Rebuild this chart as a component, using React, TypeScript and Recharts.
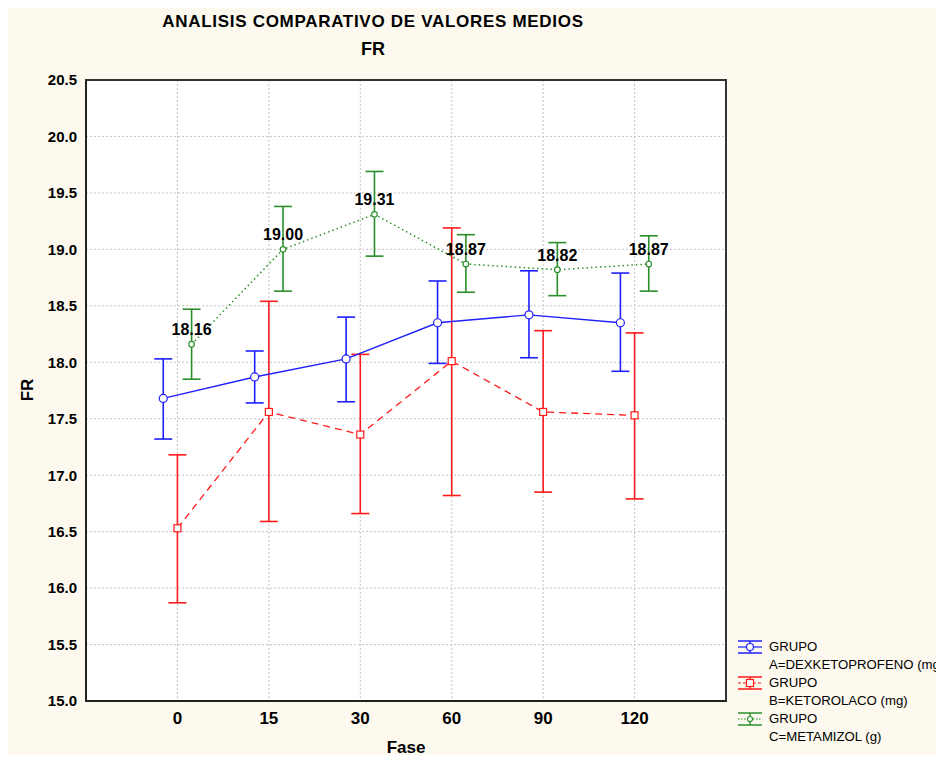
import React from 'react'
import { LineChart, Line, XAxis, YAxis, CartesianGrid, ErrorBar, LabelList, Legend, ReferenceArea } from 'recharts'

// fases (min)
const phases = ['0', '15', '30', '60', '90', '120']
const yTicks = [15, 15.5, 16, 16.5, 17, 17.5, 18, 18.5, 19, 19.5, 20, 20.5]
const groupNames = ['A=DEXKETOPROFENO (mg)', 'B=KETOROLACO (mg)', 'C=METAMIZOL (g)']

// grupo A
const dexMean = [17.68, 17.87, 18.03, 18.35, 18.42, 18.35]
const dexLow = [17.32, 17.64, 17.65, 17.99, 18.04, 17.92]
const dexHigh = [18.03, 18.1, 18.4, 18.72, 18.81, 18.79]

// grupo B
const ketMean = [16.53, 17.56, 17.36, 18.01, 17.56, 17.53]
const ketLow = [15.87, 16.59, 16.66, 16.82, 16.85, 16.79]
const ketHigh = [17.18, 18.54, 18.07, 19.19, 18.28, 18.26]

// grupo C
const metMean = [18.16, 19.0, 19.31, 18.87, 18.82, 18.87]
const metLow = [17.85, 18.63, 18.94, 18.62, 18.59, 18.63]
const metHigh = [18.47, 19.38, 19.69, 19.13, 19.06, 19.12]

const BLUE = '#1f1fff'
const RED = '#ff1a1a'
const GREEN = '#2a8f2a'
const FONT = '"Liberation Sans", Arial, sans-serif'
const SHIFT = 0.155

const build = (mean: number[], low: number[], high: number[], shift: number) =>
  mean.map((m, i) => ({ x: i + shift, y: m, err: [m - low[i], high[i] - m] }))

const dexData = build(dexMean, dexLow, dexHigh, -SHIFT)
const ketData = build(ketMean, ketLow, ketHigh, 0)
const metData = build(metMean, metLow, metHigh, SHIFT)

const circleDot = (color: string, r: number) => (props: any) => (
  <circle key={`c-${color}-${props.index}`} cx={props.cx} cy={props.cy} r={r} fill="#fff" stroke={color} strokeWidth={1.2} />
)

const squareDot = (color: string) => (props: any) => (
  <rect key={`s-${props.index}`} x={props.cx - 3.5} y={props.cy - 3.5} width={7} height={7} fill="#fff" stroke={color} strokeWidth={1.2} />
)

const legendItems = [
  { color: BLUE, dash: undefined as string | undefined, marker: 'circle' },
  { color: RED, dash: '3 2', marker: 'square' },
  { color: GREEN, dash: '1.5 1.5', marker: 'small' },
]

function LegendBox() {
  return (
    <div style={{ fontFamily: FONT, fontSize: 13.2, color: '#000', whiteSpace: 'nowrap', lineHeight: '18px' }}>
      {legendItems.map((it, i) => (
        <div key={i}>
          <div style={{ display: 'flex', alignItems: 'center', height: 18 }}>
            <svg width={26} height={16} style={{ marginRight: 6 }}>
              <line x1={1} x2={25} y1={2} y2={2} stroke={it.color} strokeWidth={1.5} />
              <line x1={1} x2={25} y1={14} y2={14} stroke={it.color} strokeWidth={1.5} />
              <line x1={13} x2={13} y1={2} y2={14} stroke={it.color} strokeWidth={1.5} />
              <line x1={1} x2={25} y1={8} y2={8} stroke={it.color} strokeWidth={1.2} strokeDasharray={it.dash} />
              {it.marker === 'circle' && <circle cx={13} cy={8} r={3.5} fill="#fff" stroke={it.color} strokeWidth={1.2} />}
              {it.marker === 'square' && <rect x={9.5} y={4.5} width={7} height={7} fill="#fff" stroke={it.color} strokeWidth={1.2} />}
              {it.marker === 'small' && <circle cx={13} cy={8} r={2.5} fill="#fff" stroke={it.color} strokeWidth={1.2} />}
            </svg>
            <span>GRUPO</span>
          </div>
          <div style={{ paddingLeft: 32 }}>{groupNames[i]}</div>
        </div>
      ))}
    </div>
  )
}

export default function App() {
  return (
    <div style={{ margin: -8, position: 'relative', width: 944, height: 763, background: '#fff', overflow: 'hidden' }}>
      <div style={{ position: 'absolute', left: 6, top: 6, width: 938, height: 757, background: '#fdf9ee' }} />
      <div style={{ position: 'absolute', left: 0, width: 746, top: 12, textAlign: 'center', fontFamily: FONT, fontWeight: 'bold', fontSize: 17, letterSpacing: 0.7, color: '#000' }}>
        ANALISIS COMPARATIVO DE VALORES MEDIOS
      </div>
      <div style={{ position: 'absolute', left: 0, width: 746, top: 39, textAlign: 'center', fontFamily: FONT, fontWeight: 'bold', fontSize: 18, color: '#000' }}>
        FR
      </div>
      <div style={{ position: 'absolute', left: 0, top: 0 }}>
        <LineChart width={944} height={763} margin={{ top: 80, right: 218, left: 0, bottom: 0 }}>
          <CartesianGrid fill="#ffffff" fillOpacity={1} stroke="#c4c4c4" strokeDasharray="2 2" />
          <XAxis
            dataKey="x"
            type="number"
            domain={[-1, 6]}
            ticks={[0, 1, 2, 3, 4, 5]}
            tickFormatter={(v: number) => phases[v]}
            allowDataOverflow
            height={62}
            tickSize={0}
            tickMargin={11}
            axisLine={{ stroke: '#222', strokeWidth: 2 }}
            tick={{ fontFamily: FONT, fontWeight: 'bold', fontSize: 17, fill: '#000' }}
            label={{ value: 'Fase', position: 'insideBottom', offset: 10, style: { fontFamily: FONT, fontWeight: 'bold', fontSize: 17, fill: '#000' } }}
          />
          <YAxis
            type="number"
            domain={[15, 20.5]}
            ticks={yTicks}
            allowDataOverflow
            width={86}
            tickSize={0}
            tickMargin={9}
            tickFormatter={(v: number) => v.toFixed(1)}
            axisLine={{ stroke: '#222', strokeWidth: 2 }}
            tick={{ fontFamily: FONT, fontWeight: 'bold', fontSize: 15, fill: '#000' }}
            label={{
              content: () => (
                <text x={27} y={390} transform="rotate(-90 27 390)" textAnchor="middle" dominantBaseline="central" fontFamily={FONT} fontWeight="bold" fontSize={17} fill="#000">
                  FR
                </text>
              ),
            }}
          />
          <ReferenceArea x1={-1} x2={6} y1={15} y2={20.5} fill="none" fillOpacity={0} stroke="#333" strokeWidth={2} ifOverflow="visible" />
          <Line
            data={ketData}
            dataKey="y"
            stroke={RED}
            strokeWidth={1.3}
            strokeDasharray="7 5"
            dot={squareDot(RED)}
            activeDot={false}
            isAnimationActive={false}
          >
            <ErrorBar dataKey="err" direction="y" width={9} stroke={RED} strokeWidth={1.6} isAnimationActive={false} />
          </Line>
          <Line
            data={dexData}
            dataKey="y"
            stroke={BLUE}
            strokeWidth={1.4}
            dot={circleDot(BLUE, 4)}
            activeDot={false}
            isAnimationActive={false}
          >
            <ErrorBar dataKey="err" direction="y" width={9} stroke={BLUE} strokeWidth={1.6} isAnimationActive={false} />
          </Line>
          <Line
            data={metData}
            dataKey="y"
            stroke={GREEN}
            strokeWidth={1.5}
            strokeDasharray="1.5 3"
            dot={circleDot(GREEN, 2.8)}
            activeDot={false}
            isAnimationActive={false}
          >
            <ErrorBar dataKey="err" direction="y" width={9} stroke={GREEN} strokeWidth={1.6} isAnimationActive={false} />
            <LabelList
              dataKey="y"
              position="top"
              offset={9}
              formatter={(v: any) => Number(v).toFixed(2)}
              style={{ fontFamily: FONT, fontWeight: 'bold', fontSize: 16, fill: '#000' }}
            />
          </Line>
          <Legend
            layout="vertical"
            align="center"
            verticalAlign="middle"
            wrapperStyle={{ left: 737, top: 638, width: 260 }}
            content={() => <LegendBox />}
          />
        </LineChart>
      </div>
    </div>
  )
}
